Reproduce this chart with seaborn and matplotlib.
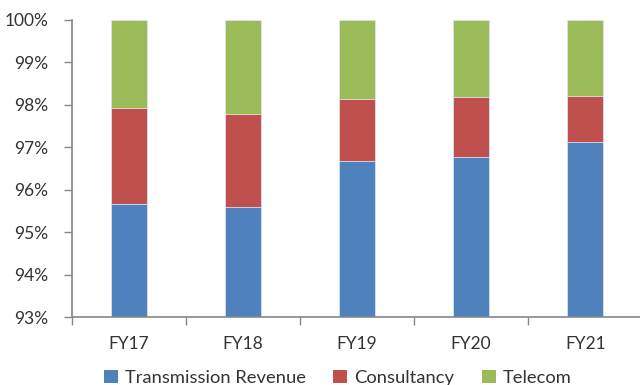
import numpy as np
import pandas as pd
import matplotlib
matplotlib.use("Agg")
import matplotlib.pyplot as plt
import seaborn as sns
from matplotlib.patches import Patch
from matplotlib.ticker import FixedLocator

years = ["FY17", "FY18", "FY19", "FY20", "FY21"]
transmission = [95.65, 95.58, 96.68, 96.77, 97.12]
consultancy = [2.26, 2.19, 1.44, 1.40, 1.08]
telecom = [2.09, 2.23, 1.88, 1.83, 1.80]

series_names = ["Transmission Revenue", "Consultancy", "Telecom"]
colors = ["#4F81BD", "#C0504D", "#9BBB59"]

sns.set_theme(style="white")
plt.rcParams["font.family"] = ["Lato", "DejaVu Sans"]

df = pd.DataFrame({
    "year": years,
    "Transmission Revenue": transmission,
    "Consultancy": consultancy,
    "Telecom": telecom,
})
# cumulative tops of each stacked segment
df["top_trans"] = df["Transmission Revenue"]
df["top_cons"] = df["top_trans"] + df["Consultancy"]
df["top_tel"] = df["top_cons"] + df["Telecom"]

fig = plt.figure(figsize=(6.4, 3.85), dpi=100)
ax = fig.add_axes([0.1125, 0.1766, 0.891, 0.7725])

# draw tallest cumulative layer first so lower segments overlay it
for col, color in zip(["top_tel", "top_cons", "top_trans"], colors[::-1]):
    sns.barplot(data=df, x="year", y=col, color=color, width=0.32,
                saturation=1, ax=ax, edgecolor="#DDE4EE", linewidth=0.6)

ax.set_ylim(93, 100)
ax.set_xlim(-0.5, 4.5)
ax.set_yticks(np.arange(93, 100.1, 1))
ax.set_yticklabels([f"{int(v)}%" for v in np.arange(93, 100.1, 1)])
ax.set_xlabel("")
ax.set_ylabel("")

# category labels centred, tick marks between categories
ax.xaxis.set_major_locator(FixedLocator(np.arange(-0.5, 5.0, 1)))
ax.set_xticklabels([""] * 6)
ax.xaxis.set_minor_locator(FixedLocator(np.arange(0, 5)))
ax.set_xticklabels(years, minor=True)
ax.tick_params(axis="x", which="major", length=6, width=1, color="#868686",
               direction="out", bottom=True)
ax.tick_params(axis="x", which="minor", length=0, pad=14, labelsize=12.5,
               labelcolor="#333333")
ax.tick_params(axis="y", length=6, width=1, color="#868686", direction="out",
               left=True, pad=11, labelsize=12.5, labelcolor="#333333")

for side in ["top", "right"]:
    ax.spines[side].set_visible(False)
for side in ["left", "bottom"]:
    ax.spines[side].set_color("#868686")
    ax.spines[side].set_linewidth(1.2)

handles = [Patch(facecolor=c, edgecolor="none") for c in colors]
fig.legend(handles, series_names, loc="lower center", ncol=3, frameon=False,
           bbox_to_anchor=(0.528, -0.045), fontsize=13.2, handlelength=0.75,
           handleheight=0.75, handletextpad=0.4, columnspacing=1.5,
           labelcolor="#333333")

fig.savefig("out.png", dpi=100)
